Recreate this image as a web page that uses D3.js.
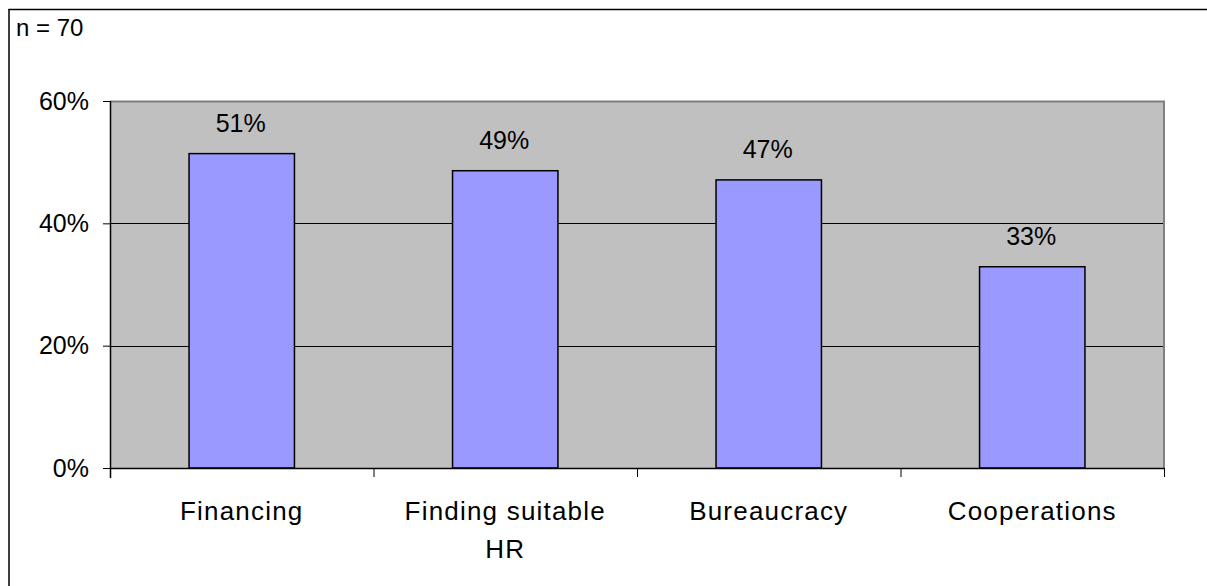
<!DOCTYPE html>
<html><head><meta charset="utf-8">
<script src="https://cdn.jsdelivr.net/npm/d3@7"></script>
<style>body{margin:0;background:#fff}svg{display:block}text{font-family:Arial,"Liberation Sans",sans-serif;fill:#000}</style>
</head><body><svg id="c" width="1207" height="586"></svg>
<script>
const categories = ["Financing", "Finding suitable|HR", "Bureaucracy", "Cooperations"];
const values = [0.514, 0.486, 0.471, 0.329];
const valueLabels = ["51%", "49%", "47%", "33%"];
const yTicks = [0, 0.2, 0.4, 0.6];
const note = "n = 70";

const svg = d3.select("#c");
const L = 110, R = 1164, T = 101, B = 468;
const x = d3.scaleBand().domain(categories).range([L, R]).paddingInner(0.6).paddingOuter(0.3);
const xb = d3.scaleBand().domain(categories).range([L, R]);
const y = d3.scaleLinear().domain([0, 0.6]).range([B, T]);

// outer frame (top & left)
svg.append("line").attr("x1",8.5).attr("x2",1207).attr("y1",9.5).attr("y2",9.5).attr("stroke","#000").attr("stroke-width",1.5);
svg.append("line").attr("x1",9).attr("x2",9).attr("y1",9).attr("y2",586).attr("stroke","#000").attr("stroke-width",1.5);

svg.append("text").attr("x",16).attr("y",36).attr("font-size",24).text(note);

// plot background
svg.append("rect").attr("x",L).attr("y",T).attr("width",R-L).attr("height",B-T).attr("fill","#c0c0c0");

// gridlines
svg.append("g").selectAll("line").data(yTicks.filter(d=>d>0 && d<0.6)).join("line")
  .attr("x1",L).attr("x2",R).attr("y1",d=>Math.round(y(d))+0.5).attr("y2",d=>Math.round(y(d))+0.5)
  .attr("stroke","#000").attr("stroke-width",1);

// plot border top/right
svg.append("path").attr("d",`M${L},${T+0.5}H${R}V${B}`).attr("fill","none").attr("stroke","#808080").attr("stroke-width",2);

// bars
svg.append("g").selectAll("rect").data(categories).join("rect")
  .attr("x",d=>x(d)).attr("width",x.bandwidth())
  .attr("y",(d,i)=>y(values[i])).attr("height",(d,i)=>B-y(values[i]))
  .attr("fill","#9999ff").attr("stroke","#000").attr("stroke-width",1.5);

// value labels
svg.append("g").selectAll("text").data(categories).join("text")
  .attr("x",d=>x(d)+x.bandwidth()/2 - 1).attr("y",(d,i)=>y(values[i])-22)
  .attr("text-anchor","middle").attr("font-size",25).text((d,i)=>valueLabels[i]);

// y axis
const yAxis = d3.axisLeft(y).tickValues(yTicks).tickFormat(d3.format(".0%")).tickSize(7).tickPadding(14);
const gy = svg.append("g").attr("transform",`translate(${L},0)`).call(yAxis);
gy.select(".domain").remove();
gy.selectAll(".tick line").attr("stroke","#000");
gy.selectAll(".tick text").attr("font-size",25).attr("font-family","Arial, 'Liberation Sans', sans-serif").attr("fill","#000");
svg.append("line").attr("x1",L+0.5).attr("x2",L+0.5).attr("y1",T).attr("y2",B+10).attr("stroke","#000").attr("stroke-width",1.5);

// x axis
svg.append("line").attr("x1",L).attr("x2",R).attr("y1",B+0.5).attr("y2",B+0.5).attr("stroke","#000").attr("stroke-width",1.5);
const bounds = categories.map(d=>xb(d)).concat([R]);
svg.append("g").selectAll("line").data(bounds.slice(1)).join("line")
  .attr("x1",d=>d+0.5).attr("x2",d=>d+0.5).attr("y1",B).attr("y2",B+9).attr("stroke","#000");

const xl = svg.append("g").selectAll("text").data(categories).join("text")
  .attr("x",d=>xb(d)+xb.bandwidth()/2).attr("y",520).attr("text-anchor","middle").attr("font-size",26).attr("letter-spacing",1.2);
xl.each(function(d){
  const parts = d.split("|");
  const t = d3.select(this);
  parts.forEach((p,i)=>t.append("tspan").attr("x",xb(d)+xb.bandwidth()/2).attr("dy",i?38:0).text(p));
});
</script></body></html>
